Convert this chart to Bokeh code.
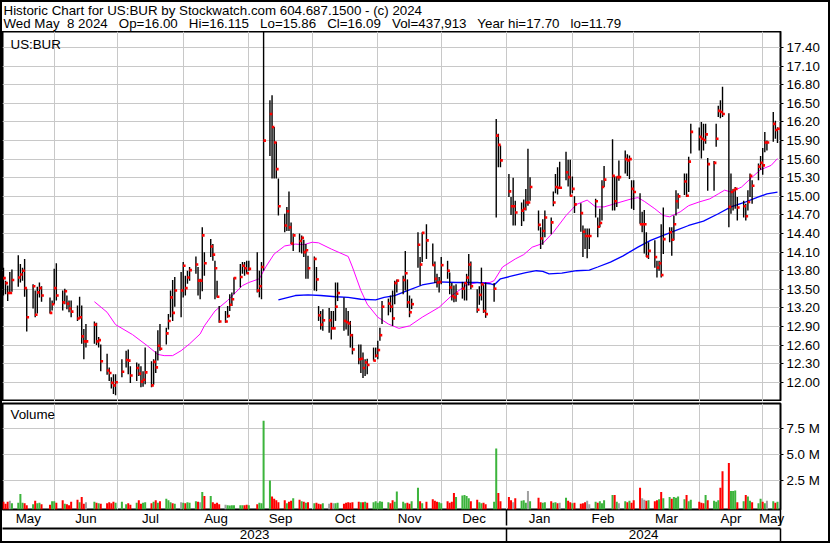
import pandas as pd
from bokeh.plotting import figure
from bokeh.layouts import column
from bokeh.models import (FixedTicker, PrintfTickFormatter, DatetimeTickFormatter,
                          DatetimeAxis, Label, Range1d, Grid, ColumnDataSource)
from bokeh.embed import file_html
from bokeh.resources import INLINE

FONT = "Liberation Sans"
FS = "13.33px"

# ---------------- data ----------------
holidays = ["2023-05-29", "2023-06-19", "2023-07-04", "2023-09-04", "2023-11-23",
            "2023-12-25", "2024-01-01", "2024-01-15", "2024-02-19", "2024-03-29"]

hi_may23 = [13.85,13.64,13.56,13.78,13.82,14.05,13.91,13.85,13.99,13.51,13.58,13.48,13.54,13.61,13.55,13.37,13.32]
lo_may23 = [13.40,13.42,13.31,13.44,13.46,13.54,13.61,13.64,13.38,12.82,13.19,13.05,13.11,13.37,13.30,13.11,13.16]
cl_may23 = [13.68,13.60,13.44,13.44,13.65,13.69,13.74,13.80,13.52,13.05,13.55,13.09,13.45,13.52,13.40,13.12,13.26]
vo_may23 = [0.45,0.25,0.45,0.55,0.30,0.35,1.20,0.35,0.30,0.10,0.20,0.55,0.30,0.35,0.20,0.15,0.50]

hi_jun23 = [13.83,13.92,13.48,13.51,13.40,13.32,13.32,13.24,13.38,13.24,12.86,12.94,12.98,12.96,12.73,12.61,12.46,12.24,12.08,12.13,12.13]
lo_jun23 = [13.26,13.32,13.16,13.26,13.18,13.13,13.05,12.99,13.02,12.62,12.37,12.56,12.62,12.60,12.56,12.18,12.12,12.02,11.90,11.81,11.79]
cl_jun23 = [13.52,13.40,13.29,13.47,13.27,13.19,13.14,13.03,13.05,12.74,12.66,12.66,12.93,12.66,12.68,12.34,12.19,12.15,11.99,11.95,12.00]
vo_jun23 = [0.50,0.35,0.60,0.25,0.20,0.10,0.45,0.65,0.40,0.90,0.25,0.40,0.45,0.35,0.30,0.25,0.30,0.40,0.30,0.45,0.35]

hi_jul23 = [12.37,12.51,12.53,12.26,12.32,12.30,12.26,12.18,12.56,12.34,12.37,12.50,12.84,12.94,12.88,13.10,13.48,13.65,13.70,13.78]
lo_jul23 = [12.08,12.24,12.13,11.99,12.02,12.10,11.92,11.93,11.97,11.92,11.96,12.15,12.35,12.51,12.61,12.85,13.05,12.99,13.22,13.05]
cl_jul23 = [12.17,12.36,12.35,12.11,12.23,12.14,12.01,12.04,12.16,11.95,12.33,12.24,12.59,12.54,12.79,12.99,13.37,13.12,13.48,13.48]
vo_jul23 = [0.45,0.20,0.30,0.15,0.35,0.60,0.25,0.35,0.40,0.30,0.45,0.60,0.35,0.50,0.75,0.60,0.40,0.30,0.25,0.40]

hi_aug23 = [13.94,13.72,13.80,13.86,14.03,13.86,13.67,14.50,14.10,14.31,14.23,13.96,13.64,13.23,13.15,13.23,13.42,13.45,13.69,13.91,13.94,13.94,13.96]
lo_aug23 = [13.37,13.40,13.59,13.64,13.75,13.40,13.34,13.47,13.72,14.02,13.96,13.34,13.37,12.96,12.96,13.04,13.15,13.23,13.42,13.53,13.75,13.72,13.75]
cl_aug23 = [13.88,13.52,13.69,13.81,13.90,13.64,13.64,14.37,13.92,14.19,14.06,13.84,13.38,12.98,12.98,13.07,13.25,13.34,13.68,13.70,13.88,13.84,13.76]
vo_aug23 = [0.35,0.30,0.40,0.35,0.50,0.45,0.40,1.40,1.00,1.00,0.40,0.25,0.35,0.20,0.15,0.10,0.08,0.10,0.10,0.10,0.12,0.10,0.15]

hi_sep23 = [13.96,14.10,13.80,13.94,17.70,16.55,16.63,16.12,15.88,15.29,14.72,14.83,15.08,14.58,14.40,14.40,14.37,14.30,14.23,14.04]
lo_sep23 = [13.80,13.45,13.37,13.34,13.80,15.65,15.29,15.29,15.29,14.69,14.42,14.44,14.44,14.23,14.12,14.10,14.08,14.02,13.67,13.67]
cl_sep23 = [13.83,13.48,13.55,13.86,15.90,16.33,16.12,15.87,15.44,14.84,14.53,14.76,14.50,14.24,14.37,14.28,14.33,14.10,14.13,13.84]
vo_sep23 = [0.10,0.20,0.35,0.30,8.30,2.50,0.95,0.75,0.60,0.40,0.60,0.30,0.45,0.55,0.80,0.65,0.50,0.45,0.35,0.40]

hi_oct23 = [14.03,13.86,13.23,13.15,13.18,13.20,13.15,13.15,13.61,13.61,13.37,13.20,13.15,12.99,12.78,12.61,12.61,12.48,12.37,12.38,12.56,12.56]
lo_oct23 = [13.48,13.47,12.99,12.85,12.83,12.80,12.69,12.87,12.99,13.31,12.83,12.85,12.75,12.56,12.45,12.29,12.15,12.07,12.10,12.13,12.35,12.40]
cl_oct23 = [13.99,13.66,13.08,12.93,13.00,13.00,12.87,12.87,13.22,13.44,12.99,12.97,12.95,12.76,12.53,12.37,12.38,12.23,12.32,12.28,12.35,12.43]
vo_oct23 = [0.30,0.35,0.25,0.20,0.30,0.25,0.35,0.30,0.30,0.35,0.25,0.35,0.40,0.35,0.40,0.45,0.40,0.40,0.45,0.35,0.40,0.50]

hi_nov23 = [12.67,12.88,13.31,13.35,13.40,13.48,13.64,13.66,13.72,14.12,13.66,13.40,13.35,14.42,14.02,14.42,14.55,14.24,13.95,13.75,13.70]
lo_nov23 = [12.37,12.67,12.94,13.08,13.13,12.91,13.26,13.45,13.42,13.48,13.20,13.05,13.18,13.85,13.56,13.94,13.99,13.88,13.60,13.53,13.45]
cl_nov23 = [12.52,12.76,13.22,13.27,13.22,13.03,13.60,13.64,13.65,13.76,13.29,13.13,13.26,14.22,13.90,14.41,14.29,13.89,13.67,13.61,13.62]
vo_nov23 = [0.35,0.50,0.45,0.40,0.30,0.60,0.45,1.45,0.45,0.30,0.35,0.25,0.50,1.80,0.50,0.30,0.45,0.70,0.55,0.45,0.40]

hi_dec23 = [14.02,13.96,13.77,13.60,13.56,13.58,13.62,13.61,13.75,14.07,13.95,13.50,13.55,13.85,13.58,13.61,13.60,16.25,16.01,15.82]
lo_dec23 = [13.58,13.67,13.42,13.32,13.29,13.30,13.35,13.32,13.32,13.56,13.50,13.12,13.25,13.32,13.12,13.04,13.30,14.66,15.47,15.47]
cl_dec23 = [13.89,13.80,13.53,13.39,13.37,13.43,13.51,13.60,13.69,13.90,13.55,13.17,13.41,13.58,13.15,13.10,13.51,15.98,15.83,15.58]
vo_dec23 = [0.30,0.50,0.35,0.45,1.30,0.90,1.05,1.10,1.00,0.80,0.50,0.65,0.40,0.30,0.35,0.20,0.45,5.60,1.30,0.50]

hi_jan24 = [15.36,14.99,15.30,14.93,14.90,14.95,15.12,15.77,15.31,14.77,14.50,14.63,14.77,14.66,15.08,15.36,15.47,15.56,15.72,15.59,15.59]
lo_jan24 = [14.99,14.70,14.53,14.53,14.52,14.60,14.77,14.85,14.93,14.45,14.15,14.22,14.34,14.39,14.84,15.05,15.03,15.12,15.26,15.16,15.00]
cl_jan24 = [15.08,14.84,14.84,14.74,14.77,14.80,14.90,14.90,15.15,14.54,14.32,14.44,14.66,14.58,14.90,15.15,15.14,15.14,15.39,15.31,15.01]
vo_jan24 = [0.90,0.60,0.40,0.80,0.55,0.60,0.35,1.50,0.50,0.85,0.40,0.35,0.40,0.50,0.35,0.40,0.30,0.35,0.85,0.55,0.40]

hi_feb24 = [15.32,15.00,14.89,14.53,14.48,14.48,14.48,14.96,14.66,14.80,15.26,15.49,15.92,15.33,15.32,15.58,15.74,15.68,15.66,15.26]
lo_feb24 = [15.05,14.73,14.43,14.02,14.15,14.00,14.15,14.66,14.34,14.50,14.61,15.15,14.77,14.77,14.83,15.25,15.37,15.33,15.28,14.80]
cl_feb24 = [15.12,14.87,14.73,14.43,14.36,14.36,14.36,14.92,14.51,14.57,15.15,15.27,15.33,14.92,15.31,15.31,15.60,15.58,15.60,15.12]
vo_feb24 = [0.30,0.35,0.25,0.30,0.40,0.55,0.20,0.45,0.35,0.50,0.30,0.60,1.10,1.10,0.45,0.30,0.50,0.40,0.55,0.35]

hi_mar24 = [15.26,15.05,14.75,14.78,14.42,14.26,14.29,13.96,13.96,14.55,14.82,14.50,14.50,14.69,15.10,15.05,15.37,15.37,15.64,16.17]
lo_mar24 = [14.78,14.56,14.42,14.08,14.02,13.99,13.85,13.69,13.80,13.69,14.07,14.26,14.04,14.29,14.69,14.80,15.02,14.99,15.07,15.69]
cl_mar24 = [15.07,14.55,14.55,14.55,14.03,14.12,14.02,13.85,13.92,13.73,14.31,14.42,14.30,14.55,14.92,15.00,15.24,15.01,15.56,16.04]
vo_mar24 = [0.60,1.80,0.80,0.65,0.55,0.60,0.50,0.60,0.70,1.40,0.80,0.90,0.75,0.90,0.85,0.95,0.70,1.10,0.50,0.65]

hi_apr24 = [16.11,16.20,16.17,16.17,15.62,15.57,16.17,16.46,16.55,16.77,16.34,15.37,15.12,15.15,14.99,14.93,14.88,15.10,15.37,15.26,15.53,15.65]
lo_apr24 = [15.74,15.61,15.74,15.85,15.09,15.09,15.80,16.28,16.26,16.28,14.50,14.72,14.77,14.80,14.61,14.66,14.61,14.77,14.99,14.88,15.26,15.43]
cl_apr24 = [15.96,15.93,15.91,16.00,15.52,15.54,15.93,16.38,16.36,16.33,14.83,15.07,15.10,15.12,14.82,14.84,14.68,14.91,15.33,15.17,15.48,15.54]
vo_apr24 = [0.45,0.35,0.30,1.10,0.60,0.55,0.45,0.60,1.80,3.40,4.20,1.50,1.50,1.55,0.40,0.50,1.10,0.95,0.55,0.40,0.30,0.75]

hi_may24 = [15.78,16.04,15.90,16.36,16.22,16.115]
lo_may24 = [15.35,15.71,15.74,15.88,15.93,15.86]
cl_may24 = [15.50,15.87,15.87,16.17,16.07,16.09]
vo_may24 = [0.45,0.30,0.55,0.50,0.35,0.44]

# moving averages (date, value)
ma_pink_dates = ["2023-06-20","2023-06-26","2023-06-30","2023-07-08","2023-07-15","2023-07-20","2023-07-23",
    "2023-07-27","2023-07-31","2023-08-04","2023-08-09","2023-08-11","2023-08-16","2023-08-22","2023-08-29",
    "2023-09-01","2023-09-06","2023-09-09","2023-09-13","2023-09-18","2023-09-23","2023-09-27","2023-10-01",
    "2023-10-04","2023-10-10","2023-10-18","2023-10-20","2023-10-24","2023-10-27","2023-11-01","2023-11-06",
    "2023-11-11","2023-11-16","2023-11-22","2023-11-30","2023-12-06","2023-12-13","2023-12-18","2023-12-24",
    "2023-12-26","2023-12-30","2024-01-05","2024-01-09","2024-01-13","2024-01-18","2024-01-23","2024-01-29",
    "2024-02-03","2024-02-08","2024-02-12","2024-02-16","2024-02-22","2024-02-29","2024-03-03","2024-03-06",
    "2024-03-11","2024-03-15","2024-03-18","2024-03-23","2024-03-27","2024-04-01","2024-04-06","2024-04-10",
    "2024-04-13","2024-04-16","2024-04-21","2024-04-26","2024-04-30","2024-05-05","2024-05-08"]
ma_pink_vals = [13.30,13.13,12.93,12.77,12.59,12.45,12.43,12.43,12.51,12.62,12.78,12.91,13.15,13.32,13.56,
    13.61,13.67,13.86,14.07,14.20,14.23,14.22,14.26,14.25,14.15,14.03,13.86,13.48,13.26,13.05,12.94,
    12.87,12.91,13.05,13.21,13.40,13.57,13.61,13.61,13.64,13.86,13.99,14.06,14.18,14.24,14.42,14.69,
    14.87,14.94,14.83,14.83,14.89,14.96,14.98,14.92,14.80,14.69,14.67,14.75,14.85,14.91,14.96,15.04,
    15.10,15.07,15.15,15.31,15.43,15.50,15.61]

ma_blue_dates = ["2023-09-15","2023-09-23","2023-09-29","2023-10-05","2023-10-12","2023-10-18","2023-10-24",
    "2023-10-31","2023-11-04","2023-11-09","2023-11-15","2023-11-22","2023-11-30","2023-12-08","2023-12-18",
    "2023-12-24","2023-12-26","2023-12-29","2024-01-04","2024-01-10","2024-01-15","2024-01-18","2024-01-21",
    "2024-01-27","2024-02-03","2024-02-09","2024-02-13","2024-02-19","2024-02-25","2024-03-03","2024-03-09",
    "2024-03-15","2024-03-21","2024-03-27","2024-04-03","2024-04-10","2024-04-16","2024-04-23","2024-04-29",
    "2024-05-03","2024-05-08"]
ma_blue_vals = [13.33,13.40,13.41,13.40,13.38,13.37,13.34,13.33,13.37,13.40,13.48,13.57,13.62,13.61,13.61,
    13.59,13.57,13.67,13.72,13.77,13.80,13.79,13.75,13.76,13.80,13.81,13.86,13.94,14.04,14.18,14.29,
    14.37,14.45,14.53,14.60,14.72,14.83,14.91,14.99,15.04,15.07]

price_ticks = [12.00, 12.30, 12.60, 12.90, 13.20, 13.50, 13.80, 14.10, 14.40, 14.70,
               15.00, 15.30, 15.60, 15.90, 16.20, 16.50, 16.80, 17.10, 17.40]
volume_ticks = [2.5, 5.0, 7.5]

SP3 = "\u00a0\u00a0 "
title_line1 = "Historic Chart for US:BUR by Stockwatch.com 604.687.1500 - (c) 2024"
title_line2 = ("Wed May\u00a0 8 2024" + SP3 + "Op=16.00" + SP3 + "Hi=16.115" + SP3 + "Lo=15.86" + SP3 +
               "Cl=16.09" + SP3 + "Vol=437,913" + SP3 + "Year hi=17.70" + SP3 + "lo=11.79")

# ---------------- assemble ----------------
months = ["may23","jun23","jul23","aug23","sep23","oct23","nov23","dec23","jan24","feb24","mar24","apr24","may24"]
g = globals()
highs = sum([g["hi_" + m] for m in months], [])
lows = sum([g["lo_" + m] for m in months], [])
closes = sum([g["cl_" + m] for m in months], [])
vols = sum([g["vo_" + m] for m in months], [])

dates = pd.bdate_range("2023-05-08", "2024-05-08", freq="C", holidays=holidays)
assert len(dates) == len(highs) == len(lows) == len(closes) == len(vols)

RED = "#ff0000"
GREEN = "#3cb43c"
GRAY = "#a0a0a0"
vcolors = []
prev = None
for c in closes:
    if prev is None or c < prev:
        vcolors.append(RED)
    elif c > prev:
        vcolors.append(GREEN)
    else:
        vcolors.append(GRAY)
    prev = c

src = ColumnDataSource(dict(date=dates, hi=highs, lo=lows, cl=closes, vol=vols, vcol=vcolors,
                            cdate=dates + pd.Timedelta(hours=12)))

x_start = pd.Timestamp("2023-05-07 13:00")
x_end = pd.Timestamp("2024-05-09 10:00")
xr = Range1d(start=x_start, end=x_end)


def ms(t):
    return pd.Timestamp(t).value / 1e6


month_starts = list(pd.date_range("2023-06-01", "2024-05-01", freq="MS"))
edges = [x_start] + month_starts + [x_end]
month_mids = [ms(a + (b - a) / 2) for a, b in zip(edges[:-1], edges[1:])]
year_edges = [x_start, pd.Timestamp("2024-01-01"), x_end]
year_mids = [ms(a + (b - a) / 2) for a, b in zip(year_edges[:-1], year_edges[1:])]
month_start_ms = [ms(t) for t in month_starts]
row_breaks_ms = [ms("2024-01-01"), ms(x_end)]

GRID = "#c8c8c8"
W = 826
RB = 48

# ---------------- header ----------------
header = figure(width=W, height=29, x_range=(0, 1), y_range=(0, 1), toolbar_location=None,
                output_backend="svg", x_axis_location=None, y_axis_location=None,
                min_border=0, outline_line_color=None)
header.grid.visible = False
header.add_layout(Label(x=1, y=21.5, x_units="screen", y_units="screen", text=title_line1,
                        text_font=FONT, text_font_size=FS, text_baseline="middle", text_color="black"))
header.add_layout(Label(x=1, y=8.5, x_units="screen", y_units="screen", text=title_line2,
                        text_font=FONT, text_font_size=FS, text_baseline="middle", text_color="black"))

# ---------------- price ----------------
price = figure(width=W, height=370, x_axis_type="datetime", x_range=xr, y_range=Range1d(11.69, 17.66),
               y_axis_location="right", x_axis_location=None, toolbar_location=None,
               output_backend="svg", min_border_left=0, min_border_right=RB,
               min_border_top=0, min_border_bottom=0,
               outline_line_color="black", outline_line_width=2)
price.xgrid.visible = False
price.add_layout(Grid(dimension=0, ticker=FixedTicker(ticks=month_start_ms), grid_line_color=GRID))
price.ygrid.grid_line_color = GRID
ya = price.yaxis[0]
ya.ticker = FixedTicker(ticks=price_ticks)
ya.formatter = PrintfTickFormatter(format="%.2f")
ya.major_tick_out = 3
ya.major_tick_in = 0
ya.minor_tick_line_color = None
ya.minor_tick_out = 0
ya.axis_line_color = None
ya.major_label_standoff = 3
ya.major_label_text_font = FONT
ya.major_label_text_font_size = FS
ya.major_label_text_color = "black"

price.line(x=pd.to_datetime(ma_pink_dates), y=ma_pink_vals, line_color="#ff00ff", line_width=1)
price.line(x=pd.to_datetime(ma_blue_dates), y=ma_blue_vals, line_color="#0000ff", line_width=1.3)
price.segment(x0="date", y0="lo", x1="date", y1="hi", source=src, line_color="black", line_width=1.4)
price.rect(x="cdate", y="cl", width=2.6, height=2.6, width_units="screen", height_units="screen",
           source=src, fill_color=RED, line_color=None)
price.add_layout(Label(x=8, y=365, x_units="screen", y_units="screen", text="US:BUR",
                       text_font=FONT, text_font_size=FS, text_baseline="top", text_color="black"))

# ---------------- volume ----------------
vol = figure(width=W, height=140, x_axis_type="datetime", x_range=xr, y_range=Range1d(-0.3, 9.97),
             y_axis_location="right", toolbar_location=None, output_backend="svg",
             min_border_left=0, min_border_right=RB, min_border_top=2, min_border_bottom=0,
             outline_line_color="black", outline_line_width=2)
vol.xgrid.visible = False
vol.add_layout(Grid(dimension=0, ticker=FixedTicker(ticks=month_start_ms), grid_line_color=GRID))
vol.ygrid.grid_line_color = GRID
vya = vol.yaxis[0]
vya.ticker = FixedTicker(ticks=volume_ticks)
vya.formatter = PrintfTickFormatter(format="%.1f M")
vya.major_tick_out = 3
vya.major_tick_in = 0
vya.minor_tick_line_color = None
vya.minor_tick_out = 0
vya.axis_line_color = None
vya.major_label_standoff = 3
vya.major_label_text_font = FONT
vya.major_label_text_font_size = FS
vya.major_label_text_color = "black"

vol.vbar(x="date", top="vol", bottom=vol.y_range.start, width=0.95 * 86400000, source=src,
         fill_color="vcol", line_color=None)
vol.add_layout(Label(x=8, y=9.6, x_units="screen", y_units="data", text="Volume",
                     text_font=FONT, text_font_size=FS, text_baseline="top", text_color="black"))

fmt_month = dict((k, "%b") for k in ["microseconds", "milliseconds", "seconds", "minsec", "minutes",
                                      "hourmin", "hours", "days", "months", "years"])
fmt_year = dict((k, "%Y") for k in fmt_month)

xa = vol.xaxis[0]
xa.ticker = FixedTicker(ticks=month_mids, minor_ticks=row_breaks_ms)
xa.formatter = DatetimeTickFormatter(**fmt_month)
xa.major_tick_out = 0
xa.major_tick_in = 0
xa.minor_tick_out = 16
xa.minor_tick_in = 0
xa.minor_tick_line_color = "black"
xa.minor_tick_line_width = 1.5
xa.axis_line_color = None
xa.major_label_standoff = -15
xa.major_label_text_font = FONT
xa.major_label_text_font_size = FS
xa.major_label_text_color = "black"

year_axis = DatetimeAxis(ticker=FixedTicker(ticks=year_mids, minor_ticks=row_breaks_ms),
                         formatter=DatetimeTickFormatter(**fmt_year))
year_axis.major_tick_out = 0
year_axis.major_tick_in = 0
year_axis.minor_tick_out = 15
year_axis.minor_tick_in = 0
year_axis.minor_tick_line_color = "black"
year_axis.minor_tick_line_width = 1.5
year_axis.axis_line_color = "black"
year_axis.axis_line_width = 2
year_axis.major_label_standoff = -14
year_axis.major_label_text_font = FONT
year_axis.major_label_text_font_size = FS
year_axis.major_label_text_color = "black"
vol.add_layout(year_axis, "below")

layout = column(header, price, vol, spacing=0, styles={"border": "2px solid black"})

open("out.html", "w").write(file_html(layout, INLINE))
